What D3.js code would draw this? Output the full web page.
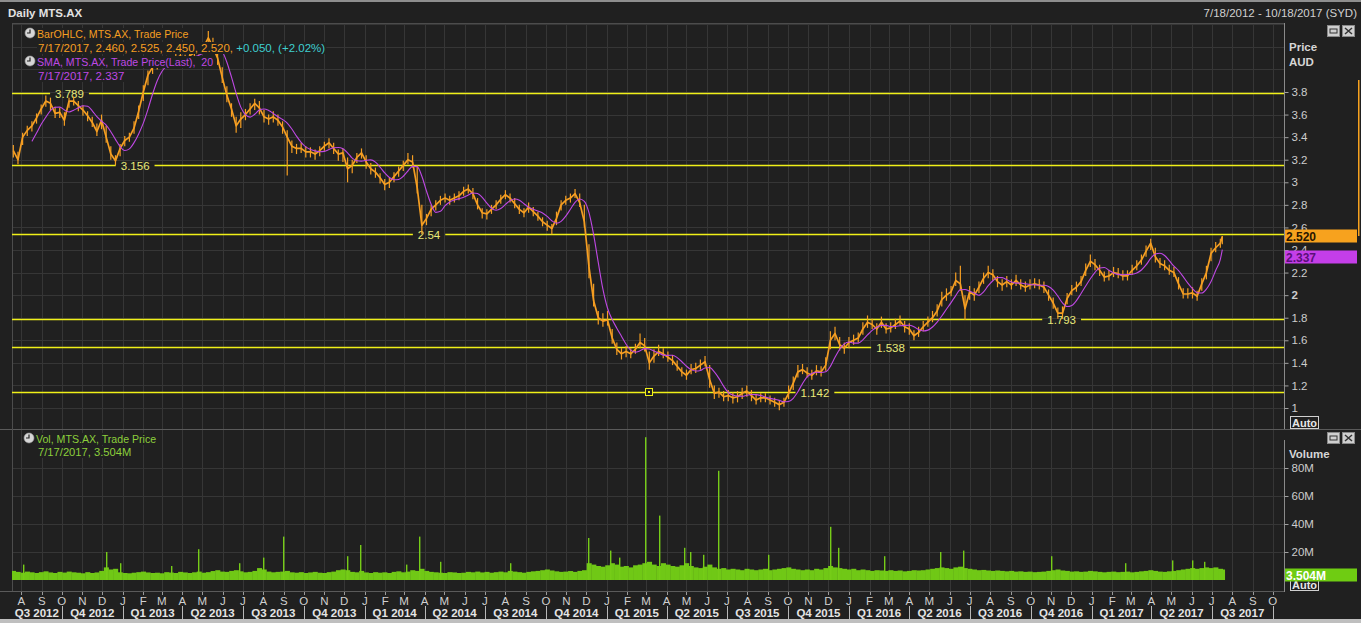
<!DOCTYPE html>
<html><head><meta charset="utf-8">
<script src="https://cdn.jsdelivr.net/npm/d3@7"></script>
<style>
html,body{margin:0;padding:0;background:#202020;overflow:hidden;}
svg{display:block;font-family:"Liberation Sans",Arial,sans-serif;}
</style></head><body>
<svg id="c" width="1361" height="623"></svg>
<script>
// ---------------- DATA ----------------
const firstWeek = "2012-07-20";      // weekly bars, every 7 days from here
const lastDay = "2017-07-17";        // final (daily) bar
const closes = [3.28,3.20,3.40,3.46,3.50,3.57,3.65,3.72,3.70,3.61,3.62,3.55,3.72,3.72,3.68,3.64,3.59,3.53,3.45,3.55,
3.40,3.25,3.19,3.30,3.37,3.40,3.48,3.63,3.80,3.95,4.02,4.03,4.05,4.08,4.06,4.10,4.12,4.08,4.12,4.15,
4.18,4.20,4.28,4.20,4.10,3.93,3.77,3.65,3.50,3.56,3.60,3.65,3.70,3.66,3.58,3.56,3.58,3.55,3.49,3.40,
3.32,3.30,3.30,3.27,3.27,3.25,3.28,3.32,3.35,3.30,3.25,3.26,3.12,3.15,3.22,3.26,3.18,3.12,3.09,3.04,
2.98,3.00,3.05,3.10,3.15,3.20,3.18,2.95,2.62,2.68,2.76,2.80,2.84,2.86,2.84,2.86,2.88,2.92,2.94,2.90,
2.80,2.73,2.72,2.76,2.80,2.85,2.89,2.86,2.81,2.76,2.73,2.78,2.74,2.70,2.65,2.62,2.59,2.68,2.80,2.84,
2.86,2.90,2.82,2.65,2.25,1.95,1.80,1.77,1.78,1.62,1.52,1.48,1.50,1.48,1.52,1.58,1.55,1.40,1.46,1.50,
1.48,1.45,1.42,1.37,1.32,1.29,1.34,1.35,1.38,1.41,1.25,1.13,1.14,1.10,1.11,1.09,1.10,1.13,1.15,1.11,
1.07,1.09,1.09,1.07,1.05,1.03,1.05,1.13,1.22,1.32,1.34,1.31,1.29,1.33,1.32,1.38,1.60,1.66,1.56,1.53,
1.58,1.60,1.62,1.70,1.76,1.74,1.70,1.76,1.70,1.71,1.74,1.77,1.72,1.70,1.64,1.67,1.72,1.76,1.80,1.86,
1.96,2.00,2.03,2.13,2.10,1.88,2.03,2.00,2.07,2.15,2.20,2.18,2.12,2.09,2.12,2.09,2.13,2.09,2.07,2.09,
2.10,2.09,2.07,2.00,1.93,1.84,1.84,1.97,2.04,2.07,2.12,2.22,2.30,2.27,2.22,2.16,2.17,2.20,2.19,2.17,
2.17,2.22,2.26,2.31,2.39,2.46,2.34,2.28,2.26,2.22,2.20,2.10,2.01,2.01,2.02,1.99,2.10,2.20,2.37,2.42,
2.46,2.52];
const highs = [3.33,3.27,3.44,3.50,3.54,3.61,3.69,3.77,3.75,3.67,3.66,3.62,3.75,3.76,3.72,3.68,3.63,3.58,3.52,3.60,
3.50,3.32,3.24,3.34,3.41,3.44,3.54,3.68,3.86,3.99,4.06,4.08,4.10,4.12,4.10,4.14,4.16,4.13,4.17,4.20,
4.22,4.24,4.34,4.28,4.15,4.02,3.85,3.70,3.58,3.62,3.65,3.70,3.74,3.72,3.64,3.60,3.63,3.60,3.54,3.46,
3.37,3.34,3.35,3.32,3.31,3.29,3.32,3.36,3.39,3.35,3.29,3.30,3.22,3.20,3.26,3.30,3.24,3.17,3.13,3.08,
3.03,3.04,3.09,3.14,3.19,3.26,3.24,3.15,2.80,2.72,2.80,2.84,2.88,2.90,2.88,2.90,2.92,2.96,2.98,2.95,
2.86,2.77,2.76,2.80,2.84,2.89,2.93,2.90,2.86,2.80,2.77,2.82,2.78,2.74,2.69,2.66,2.63,2.74,2.84,2.88,
2.90,2.94,2.90,2.80,2.45,2.10,1.86,1.84,1.86,1.70,1.58,1.53,1.55,1.53,1.57,1.66,1.62,1.50,1.52,1.56,
1.53,1.50,1.47,1.42,1.36,1.34,1.39,1.40,1.43,1.46,1.38,1.20,1.18,1.15,1.16,1.14,1.15,1.18,1.20,1.16,
1.12,1.13,1.13,1.11,1.09,1.07,1.09,1.20,1.28,1.38,1.39,1.36,1.34,1.38,1.37,1.45,1.68,1.72,1.63,1.58,
1.63,1.65,1.67,1.76,1.82,1.79,1.75,1.81,1.75,1.76,1.79,1.82,1.77,1.75,1.69,1.72,1.77,1.81,1.86,1.92,
2.03,2.06,2.08,2.20,2.26,2.00,2.08,2.06,2.12,2.20,2.26,2.23,2.17,2.14,2.17,2.14,2.18,2.14,2.12,2.14,
2.15,2.14,2.12,2.05,1.98,1.89,1.90,2.02,2.09,2.12,2.17,2.28,2.36,2.32,2.27,2.21,2.22,2.25,2.24,2.22,
2.22,2.27,2.31,2.36,2.44,2.50,2.42,2.33,2.31,2.27,2.25,2.16,2.06,2.06,2.07,2.04,2.15,2.26,2.42,2.47,
2.50,2.525];
const lows = [3.22,3.16,3.33,3.41,3.45,3.52,3.60,3.67,3.64,3.57,3.57,3.50,3.66,3.68,3.63,3.59,3.54,3.49,3.41,3.47,
3.35,3.20,3.15,3.23,3.32,3.36,3.43,3.56,3.72,3.86,3.96,4.00,4.02,4.04,4.02,4.05,4.07,4.03,4.07,4.10,
4.13,4.15,4.22,4.14,4.04,3.88,3.71,3.58,3.44,3.48,3.55,3.60,3.64,3.60,3.53,3.51,3.53,3.50,3.43,3.06,
3.26,3.25,3.26,3.22,3.22,3.20,3.23,3.28,3.30,3.25,3.19,3.18,3.00,3.08,3.17,3.21,3.12,3.07,3.04,2.99,
2.93,2.95,3.00,3.05,3.10,3.16,3.13,2.90,2.54,2.62,2.70,2.75,2.80,2.82,2.80,2.82,2.84,2.88,2.90,2.85,
2.76,2.68,2.67,2.72,2.76,2.81,2.85,2.82,2.77,2.72,2.69,2.73,2.70,2.66,2.61,2.57,2.54,2.62,2.75,2.80,
2.82,2.86,2.78,2.60,2.15,1.90,1.74,1.72,1.73,1.57,1.47,1.43,1.45,1.44,1.48,1.53,1.50,1.34,1.40,1.46,
1.44,1.41,1.38,1.33,1.28,1.25,1.30,1.31,1.34,1.37,1.18,1.08,1.09,1.06,1.06,1.04,1.05,1.08,1.10,1.06,
1.03,1.05,1.05,1.03,1.01,0.98,1.01,1.08,1.16,1.27,1.30,1.27,1.25,1.29,1.28,1.33,1.52,1.60,1.51,1.48,
1.53,1.56,1.58,1.65,1.71,1.70,1.65,1.71,1.66,1.67,1.70,1.73,1.67,1.65,1.60,1.63,1.68,1.72,1.76,1.81,
1.90,1.95,1.99,2.08,2.04,1.78,1.96,1.95,2.02,2.10,2.15,2.13,2.07,2.04,2.07,2.05,2.08,2.05,2.03,2.05,
2.06,2.05,2.02,1.95,1.88,1.79,1.79,1.92,2.00,2.03,2.08,2.17,2.25,2.22,2.17,2.12,2.13,2.16,2.15,2.13,
2.13,2.18,2.22,2.27,2.34,2.40,2.29,2.24,2.22,2.18,2.16,2.05,1.97,1.97,1.97,1.95,2.04,2.14,2.30,2.38,
2.42,2.45];
// typical daily volume (millions) for each weekly slot
const volumes = [6.5,5.8,5.2,6.0,5.5,5.0,5.6,6.2,5.4,5.0,5.8,5.3,6.0,5.5,5.2,4.8,5.6,5.0,5.4,6.5,
9,7.5,8,5.5,5,4.8,
5.2,5.6,6.0,5.4,5.0,5.2,4.8,5.6,5.3,5.0,5.8,5.4,5.0,5.5,6.0,5.2,5.6,6.4,7.0,6.0,
5.8,6.5,7.0,6.2,5.5,5.8,6.5,8.5,7.5,6.0,5.5,5.8,6.0,6.5,5.5,
5.2,5.6,5.0,5.4,5.8,5.2,5.0,5.6,6.0,7.0,7.5,7.0,5.8,5.5,6.5,
5.4,5.0,5.6,5.2,5.5,5.0,5.8,6.2,5.5,6.0,7.0,6.5,8.0,6.5,5.8,5.5,5.2,5.0,5.6,5.4,5.0,5.2,5.8,5.5,6.0,
5.4,5.8,5.2,5.6,6.0,5.5,6.5,6.0,5.6,5.2,5.8,6.2,6.5,7.0,7.5,6.8,6.2,5.8,6.0,6.4,5.8,6.5,7.0,
12,11,10,9.5,10.5,12,11,9.5,10,9,10.5,11,12,13,11,10,12,11,10,9.5,10.5,12,10,9,8.5,9.5,11,
9,8,8.5,7.5,8,7.5,7,8,7.5,7,7.5,8,7,7.5,8,8.5,9,8,7.5,7,7.5,7,8,7.5,8.5,
10,9,8.5,8,7.5,8,7,7.5,7,6.5,7,6.8,6.5,7,6.5,6.8,6.2,6.5,7,6.8,7,7.5,8,8.5,
9,8.5,8,9,9.5,8.5,8,7.5,7,7.2,6.8,6.5,6.8,6.5,6.2,6.5,
6.0,6.2,5.8,6.0,5.6,5.8,6.0,6.5,7.0,7.5,6.8,6.5,6.0,6.2,5.8,6.0,6.5,6.2,5.8,5.5,5.8,6.0,5.6,5.8,6.0,
5.5,5.8,6.2,6.5,7.0,6.5,6.0,5.8,6.2,6.5,7.0,7.5,8.0,8.5,8.0,8.5,9.0,8.5,9.0,8.0,7.5,3.504];
// single-day volume spikes (millions)
const spikeDates = ["2012-08-03","2012-12-07","2012-12-28","2013-03-15","2013-04-25","2013-06-25","2013-07-31","2013-08-30",
"2013-12-05","2013-12-24","2014-03-04","2014-03-24","2014-04-24","2014-08-08","2014-12-04","2015-01-06",
"2015-01-20","2015-02-27","2015-03-20","2015-04-28","2015-05-06","2015-05-26","2015-06-17","2015-09-01",
"2015-12-03","2015-12-15","2016-02-23","2016-05-18","2016-06-21","2016-10-31","2017-02-20","2017-05-02",
"2017-06-01","2017-06-20"];
const spikeVols = [11,20,12,10,22,12,16,31,17,25,11,31,13,12,30,21,16,102,46,23,20,18,78,18,38,23,17,20,21,17,12,14,14,13];
// horizontal support / resistance levels
const levelValues = [3.789,3.156,2.54,1.142,1.538,1.793];
const levelLabels = ["3.789","3.156","2.54","1.142","1.538","1.793"];
const levelLabelDates = ["2012-09-21","2012-12-29","2014-03-22","2015-10-20","2016-02-11","2016-10-26"];
const markerDate = "2015-03-05";
const priceTicks = [1,1.2,1.4,1.6,1.8,2,2.2,2.4,2.6,2.8,3,3.2,3.4,3.6,3.8];
const volTicks = [20,40,60,80];
const lastClose = 2.520, lastSMA = 2.337, lastVol = 3.504;

// ---------------- LAYOUT ----------------
const W = 1361, H = 623;
const X0 = 12, X1 = 1284;
const PY0 = 23, PY1 = 429;
const VY0 = 430, VY1 = 591;
const BG = "#202020", GRID = "#363636", BORDER = "#4c4c4c";
const ORANGE = "#f59e22", PURPLE = "#bf48e4", YELLOW = "#f0f018", GREEN = "#70c816", LGREEN = "#8ccf3c";
const TICKC = "#cdcdcd";

const parse = d3.timeParse("%Y-%m-%d");
const dates = closes.map((_, i) => i < closes.length - 1 ? d3.timeDay.offset(parse(firstWeek), 7 * i) : parse(lastDay));

const x = d3.scaleTime().domain([parse("2012-07-18"), parse("2017-10-18")]).range([X0, X1]);
const yP = d3.scaleLinear().domain([1, 3.8]).range([408, 92]);
const yV = d3.scaleLinear().domain([0, 80]).range([580, 468]);

const svg = d3.select("#c");
svg.append("rect").attr("width", W).attr("height", H).attr("fill", BG);
svg.append("rect").attr("width", W).attr("height", 2).attr("fill", "#8e8e8e");

const defs = svg.append("defs");
defs.append("clipPath").attr("id", "cp").append("rect").attr("x", X0).attr("y", PY0).attr("width", X1 - X0).attr("height", PY1 - PY0);
defs.append("clipPath").attr("id", "cv").append("rect").attr("x", X0).attr("y", VY0).attr("width", X1 - X0).attr("height", VY1 - VY0);

// title
svg.append("text").attr("x", 8).attr("y", 17).attr("fill", "#e2e2e2").attr("font-size", 11.5).attr("font-weight", "bold").text("Daily MTS.AX");
svg.append("text").attr("x", 1357).attr("y", 17).attr("text-anchor", "end").attr("fill", "#d0d0d0").attr("font-size", 11.5).text("7/18/2012 - 10/18/2017 (SYD)");

// grids
const months = d3.timeMonth.range(d3.timeMonth.ceil(x.domain()[0]), x.domain()[1]);
const gridP = svg.append("g");
const pGridVals = d3.range(4, 23).map(k => k / 5);
gridP.selectAll("line.h").data(pGridVals.filter(v => yP(v) > PY0 && yP(v) < PY1)).join("line")
  .attr("x1", X0).attr("x2", X1).attr("y1", d => Math.round(yP(d)) + 0.5).attr("y2", d => Math.round(yP(d)) + 0.5)
  .attr("stroke", GRID);
gridP.selectAll("line.v").data(months).join("line")
  .attr("x1", d => Math.round(x(d)) + 0.5).attr("x2", d => Math.round(x(d)) + 0.5).attr("y1", PY0).attr("y2", PY1)
  .attr("stroke", GRID);
const gridV = svg.append("g");
gridV.selectAll("line.h").data(volTicks).join("line")
  .attr("x1", X0).attr("x2", X1).attr("y1", d => Math.round(yV(d)) + 0.5).attr("y2", d => Math.round(yV(d)) + 0.5)
  .attr("stroke", GRID);
gridV.selectAll("line.v").data(months).join("line")
  .attr("x1", d => Math.round(x(d)) + 0.5).attr("x2", d => Math.round(x(d)) + 0.5).attr("y1", VY0).attr("y2", VY1)
  .attr("stroke", GRID);

// panel frame lines
svg.append("line").attr("x1", X0).attr("x2", X1).attr("y1", PY0 + 0.5).attr("y2", PY0 + 0.5).attr("stroke", BORDER);
svg.append("line").attr("x1", 0).attr("x2", W).attr("y1", VY0 - 0.5).attr("y2", VY0 - 0.5).attr("stroke", "#5a5a5a");
svg.append("line").attr("x1", 0).attr("x2", X1).attr("y1", VY1 + 0.5).attr("y2", VY1 + 0.5).attr("stroke", "#5a5a5a");
svg.append("line").attr("x1", X0 + 0.5).attr("x2", X0 + 0.5).attr("y1", PY0).attr("y2", VY1).attr("stroke", BORDER);

// ---------------- PRICE PANEL ----------------
const gp = svg.append("g").attr("clip-path", "url(#cp)");
// level lines with inline labels
levelValues.forEach((v, i) => {
  const yy = Math.round(yP(v)) + 0.5;
  const tx = x(parse(levelLabelDates[i]));
  const t = gp.append("text").attr("x", tx).attr("y", yy + 4)
    .attr("fill", "#e8e878").attr("font-size", 11.5).text(levelLabels[i]);
  const w = t.node().getComputedTextLength();
  gp.append("line").attr("x1", X0).attr("x2", tx - 5).attr("y1", yy).attr("y2", yy).attr("stroke", YELLOW).attr("stroke-width", 1.4);
  gp.append("line").attr("x1", tx + w + 5).attr("x2", X1).attr("y1", yy).attr("y2", yy).attr("stroke", YELLOW).attr("stroke-width", 1.4);
});
{
  const mx = Math.round(x(parse(markerDate))), my = Math.round(yP(1.142));
  gp.append("rect").attr("x", mx - 3.5).attr("y", my - 3.5).attr("width", 7).attr("height", 7).attr("fill", BG).attr("stroke", YELLOW);
  gp.append("rect").attr("x", mx - 1).attr("y", my - 1).attr("width", 2).attr("height", 2).attr("fill", YELLOW);
}
// OHLC high-low bars
gp.selectAll("line.bar").data(closes).join("line")
  .attr("x1", (d, i) => x(dates[i])).attr("x2", (d, i) => x(dates[i]))
  .attr("y1", (d, i) => yP(highs[i])).attr("y2", (d, i) => yP(lows[i]))
  .attr("stroke", ORANGE).attr("stroke-width", 1.2);
gp.append("path").datum(closes)
  .attr("d", d3.line().x((d, i) => x(dates[i])).y(d => yP(d)))
  .attr("fill", "none").attr("stroke", ORANGE).attr("stroke-width", 1.7).attr("stroke-linejoin", "round");
// 20-day SMA approximated on the weekly closes (4-week trapezoidal mean)
const sma = closes.map((c, i) => i < 4 ? null : (0.5 * closes[i - 4] + closes[i - 3] + closes[i - 2] + closes[i - 1] + 0.5 * c) / 4);
gp.append("path").datum(sma)
  .attr("d", d3.line().defined(d => d != null).curve(d3.curveMonotoneX).x((d, i) => x(dates[i])).y(d => yP(d)))
  .attr("fill", "none").attr("stroke", PURPLE).attr("stroke-width", 1.1);

// legends with opaque backgrounds
function clock(g, cx, cy) {
  g.append("circle").attr("cx", cx).attr("cy", cy).attr("r", 5).attr("fill", "#d6d6d6").attr("stroke", "#9a9a9a").attr("stroke-width", 0.6);
  g.append("path").attr("d", `M${cx},${cy - 3.5}V${cy}H${cx - 3}`).attr("stroke", "#222").attr("stroke-width", 1.2).attr("fill", "none");
}
function legendLine(g, x0, y0, parts, fs) {
  const lg = g.append("g");
  let cx = x0;
  parts.forEach(p => {
    const t = lg.append("text").attr("x", cx).attr("y", y0).attr("fill", p.c).attr("font-size", fs)
      .style("white-space", "pre").text(p.t);
    cx += t.node().getComputedTextLength();
  });
  const bb = lg.node().getBBox();
  lg.insert("rect", ":first-child").attr("x", bb.x - 1).attr("y", bb.y).attr("width", bb.width + 2).attr("height", bb.height).attr("fill", BG);
}
const lgP = svg.append("g");
legendLine(lgP, 37, 38, [{t: "BarOHLC, MTS.AX, Trade Price", c: ORANGE}], 10.6);
legendLine(lgP, 38, 52, [{t: "7/17/2017, 2.460, 2.525, 2.450, 2.520, ", c: ORANGE}, {t: "+0.050, (+2.02%)", c: "#3fcfd0"}], 11.5);
legendLine(lgP, 37, 66, [{t: "SMA, MTS.AX, Trade Price(Last),  20", c: PURPLE}], 10.6);
legendLine(lgP, 38, 80, [{t: "7/17/2017, 2.337", c: PURPLE}], 11.5);
clock(lgP, 30, 33);
clock(lgP, 30, 61);

// ---------------- VOLUME PANEL ----------------
const gv = svg.append("g").attr("clip-path", "url(#cv)");
gv.selectAll("rect.vb").data(volumes).join("rect")
  .attr("x", (d, i) => x(d3.timeHour.offset(dates[i], -84)))
  .attr("width", (d, i) => Math.max(1, x(d3.timeHour.offset(dates[i], 84)) - x(d3.timeHour.offset(dates[i], -84)) + 0.4))
  .attr("y", d => yV(d)).attr("height", d => yV(0) - yV(d)).attr("fill", GREEN);
gv.selectAll("rect.sp").data(spikeVols).join("rect")
  .attr("x", (d, i) => Math.round(x(parse(spikeDates[i])))).attr("width", 1.4)
  .attr("y", d => yV(d)).attr("height", d => yV(0) - yV(d)).attr("fill", "#76cc18");
const lgV = svg.append("g");
legendLine(lgV, 36, 443, [{t: "Vol, MTS.AX, Trade Price", c: LGREEN}], 10.6);
legendLine(lgV, 38, 456, [{t: "7/17/2017, 3.504M", c: LGREEN}], 11.2);
clock(lgV, 29, 438);

// ---------------- RIGHT AXES ----------------
svg.append("line").attr("x1", X1 + 0.5).attr("x2", X1 + 0.5).attr("y1", PY0).attr("y2", VY0 - 1).attr("stroke", "#8a8a8a");
svg.append("line").attr("x1", X1 + 0.5).attr("x2", X1 + 0.5).attr("y1", 440).attr("y2", VY1 + 1).attr("stroke", "#8a8a8a");
const axP = svg.append("g").attr("transform", `translate(${X1 + 0.5},0)`)
  .call(d3.axisRight(yP).tickValues(priceTicks).tickSize(4).tickPadding(3).tickFormat(d => String(d)));
axP.select(".domain").remove();
axP.selectAll("line").attr("stroke", "#a0a0a0");
axP.selectAll("text").attr("fill", TICKC).attr("font-size", 11.5).attr("font-family", "Liberation Sans, Arial, sans-serif")
  .attr("font-weight", d => d === 2 ? "bold" : null);
const axV = svg.append("g").attr("transform", `translate(${X1 + 0.5},0)`)
  .call(d3.axisRight(yV).tickValues(volTicks).tickSize(4).tickPadding(3).tickFormat(d => d + "M"));
axV.select(".domain").remove();
axV.selectAll("line").attr("stroke", "#a0a0a0");
axV.selectAll("text").attr("fill", TICKC).attr("font-size", 11.5).attr("font-family", "Liberation Sans, Arial, sans-serif");

svg.append("text").attr("x", 1289).attr("y", 51).attr("fill", "#d6d6d6").attr("font-size", 11.5).attr("font-weight", "bold").text("Price");
svg.append("text").attr("x", 1289).attr("y", 66).attr("fill", "#d6d6d6").attr("font-size", 11.5).attr("font-weight", "bold").text("AUD");
svg.append("text").attr("x", 1289).attr("y", 458).attr("fill", "#d6d6d6").attr("font-size", 11.5).attr("font-weight", "bold").text("Volume");

function autoBox(yTop) {
  svg.append("rect").attr("x", 1290.5).attr("y", yTop + 0.5).attr("width", 28).attr("height", 12).attr("fill", BG).attr("stroke", "#d0d0d0");
  svg.append("text").attr("x", 1292).attr("y", yTop + 11).attr("fill", "#e6e6e6").attr("font-size", 11).attr("font-weight", "bold").text("Auto");
}
autoBox(416);
autoBox(578);

// thin price-marker edge on the right border
svg.append("rect").attr("x", 1358).attr("y", 80).attr("width", 1.5).attr("height", Math.round(yP(lastClose)) - 80).attr("fill", "#f7a21e");

function valueBox(yc, fill, txt, tc) {
  svg.append("rect").attr("x", 1285).attr("y", Math.round(yc) - 6.5).attr("width", 72).attr("height", 13).attr("fill", fill);
  svg.append("text").attr("x", 1286).attr("y", Math.round(yc) + 4.5).attr("fill", tc).attr("font-size", 12).attr("font-weight", "bold").text(txt);
}
valueBox(yP(lastClose), "#f7a21e", lastClose.toFixed(3), "#2a1600");
valueBox(yP(lastSMA), "#c43ee8", lastSMA.toFixed(3), "#5a0f78");
valueBox(yV(lastVol), "#6fcc12", lastVol.toFixed(3) + "M", "#ffffff");

function buttons(yTop) {
  [1327, 1342].forEach((bx, k) => {
    svg.append("rect").attr("x", bx + 0.5).attr("y", yTop + 0.5).attr("width", 12).attr("height", 11).attr("fill", "#cfcfcf").attr("stroke", "#8a8a8a");
    if (k === 0) svg.append("rect").attr("x", bx + 3).attr("y", yTop + 4).attr("width", 7).attr("height", 4).attr("fill", "none").attr("stroke", "#333");
    else svg.append("path").attr("d", `M${bx + 3},${yTop + 3}L${bx + 10},${yTop + 9}M${bx + 10},${yTop + 3}L${bx + 3},${yTop + 9}`).attr("stroke", "#333").attr("stroke-width", 1.5);
  });
}
buttons(25);
buttons(432);

// ---------------- TIME AXIS ----------------
const gx = svg.append("g");
gx.selectAll("line.mt").data(months).join("line")
  .attr("x1", d => Math.round(x(d)) + 0.5).attr("x2", d => Math.round(x(d)) + 0.5).attr("y1", 592).attr("y2", 595).attr("stroke", "#9a9a9a");
gx.selectAll("text.ml").data(months).join("text")
  .attr("x", d => x(d)).attr("y", 605).attr("text-anchor", "middle").attr("fill", "#cfcfcf").attr("font-size", 11.5)
  .text(d => d3.timeFormat("%B")(d)[0]);
const quarters = d3.timeMonth.every(3).range(d3.timeYear.floor(x.domain()[0]), x.domain()[1]);
quarters.forEach(q => {
  const qEnd = d3.timeMonth.offset(q, 3);
  const a = Math.max(X0, x(q)), b = Math.min(X1, x(qEnd));
  if (b - a > 40) {
    gx.append("text").attr("x", (a + b) / 2).attr("y", 617).attr("text-anchor", "middle").attr("fill", "#e4e4e4")
      .attr("font-size", 11.5).attr("font-weight", "bold").text(`Q${Math.floor(q.getMonth() / 3) + 1} ${q.getFullYear()}`);
  }
  if (x(qEnd) > X0 && x(qEnd) < X1) {
    gx.append("line").attr("x1", Math.round(x(qEnd)) + 0.5).attr("x2", Math.round(x(qEnd)) + 0.5).attr("y1", 606).attr("y2", 619).attr("stroke", "#b8b8b8");
  }
});
svg.append("rect").attr("x", 0).attr("y", 619).attr("width", W).attr("height", 4).attr("fill", "#bfbfbf");
</script>
</body></html>
